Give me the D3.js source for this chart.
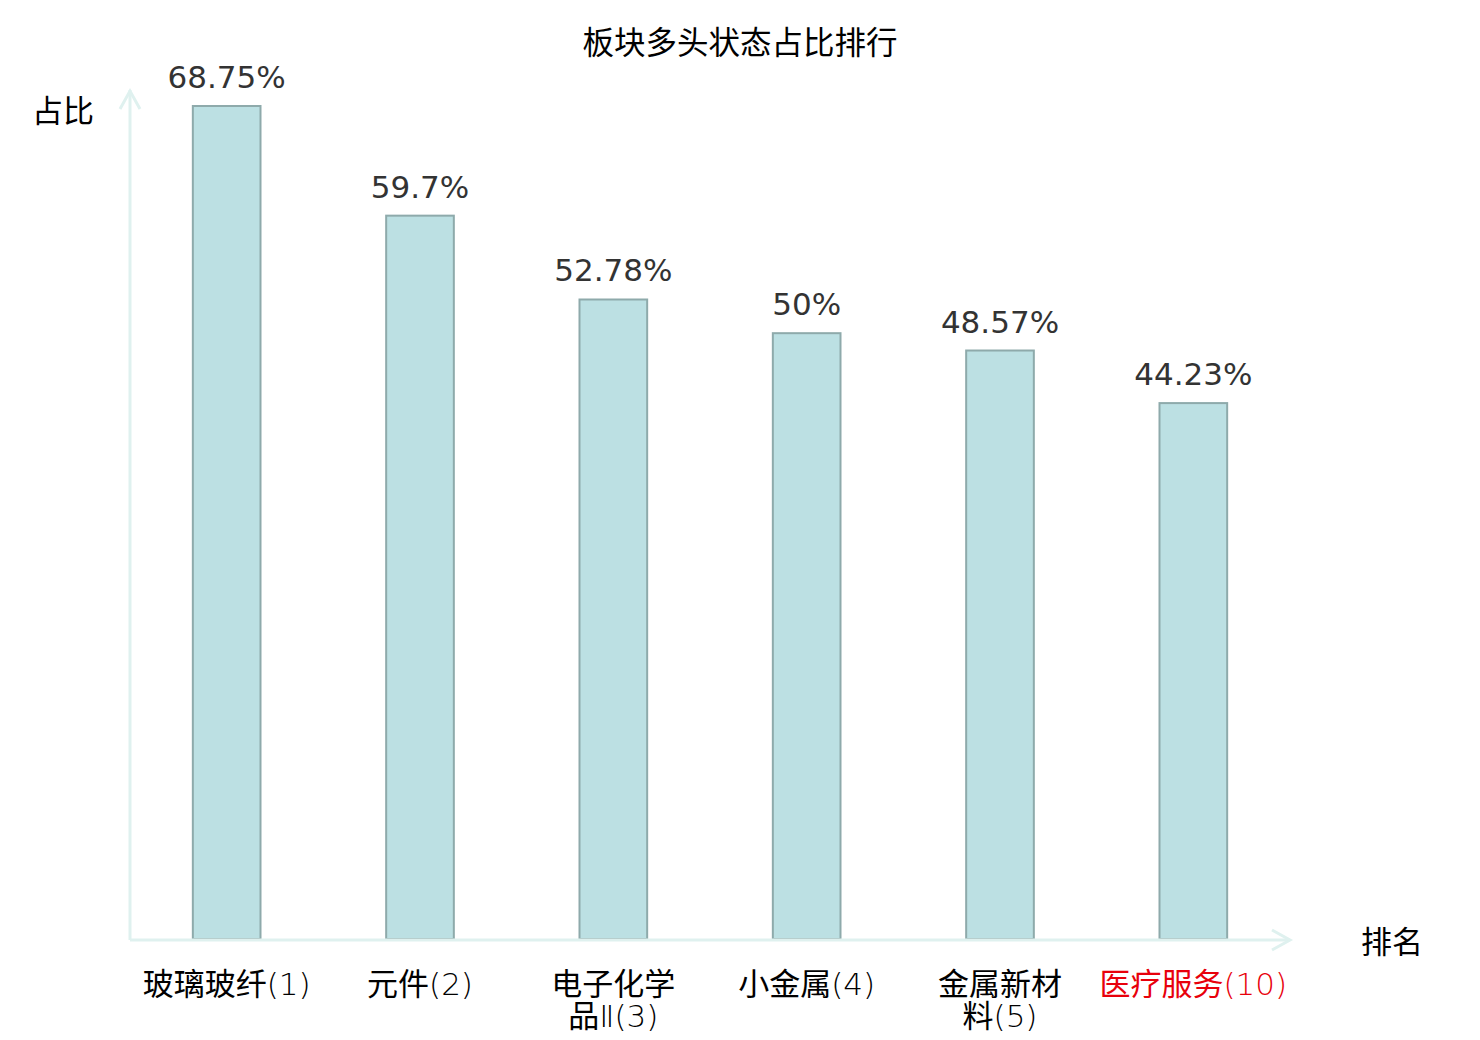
<!DOCTYPE html>
<html lang="zh">
<head>
<meta charset="UTF-8">
<title>板块多头状态占比排行</title>
<style>
  body, html { margin: 0; padding: 0; background: #fff; overflow: hidden; }
  text { font-family: "DejaVu Sans", "Noto Sans CJK SC", sans-serif; }
  .thin { font-family: "DejaVu Sans", "Noto Sans CJK SC", sans-serif; font-weight: 200; }
</style>
</head>
<body>
<script src="https://d3js.org/d3.v7.min.js"></script>
<script>
// data
var categories = ["玻璃玻纤(1)", "元件(2)", "电子化学品Ⅱ(3)", "小金属(4)", "金属新材料(5)", "医疗服务(10)"];
var labelLines = [["玻璃玻纤(1)"], ["元件(2)"], ["电子化学", "品Ⅱ(3)"], ["小金属(4)"], ["金属新材", "料(5)"], ["医疗服务(10)"]];
var values = [68.75, 59.7, 52.78, 50, 48.57, 44.23];
var highlight = [false, false, false, false, false, true];

var width = 1480, height = 1040;
var x0 = 130, x1 = 1290, yBase = 939, yTop = 106;
var fs = 31;

var svg = d3.select("body").append("svg")
    .attr("width", width)
    .attr("height", height);

var x = d3.scaleBand()
    .domain(categories)
    .range([x0, x1])
    .paddingInner(0.65)
    .paddingOuter(0.325);

var y = d3.scaleLinear()
    .domain([0, d3.max(values)])
    .range([yBase, yTop]);

// title
svg.append("text")
    .attr("x", 740).attr("y", 54)
    .attr("text-anchor", "middle")
    .attr("font-size", 31.5)
    .attr("fill", "#000")
    .text("板块多头状态占比排行");

// bars
svg.selectAll("rect.bar")
    .data(values)
    .enter().append("rect")
    .attr("class", "bar")
    .attr("x", function(d, i) { return x(categories[i]); })
    .attr("y", function(d) { return y(d); })
    .attr("width", x.bandwidth())
    .attr("height", function(d) { return yBase - y(d); })
    .attr("fill", "#bce0e3")
    .attr("stroke", "#8eaaab")
    .attr("stroke-width", 2);

// value labels
svg.selectAll("text.val")
    .data(values)
    .enter().append("text")
    .attr("class", "val")
    .attr("x", function(d, i) { return x(categories[i]) + x.bandwidth() / 2; })
    .attr("y", function(d) { return y(d) - 18; })
    .attr("text-anchor", "middle")
    .attr("font-size", fs)
    .attr("fill", "#333")
    .text(function(d) { return d + "%"; });

// axes
var axisColor = "#dff1ef";
svg.append("line")
    .attr("x1", x0).attr("y1", yBase + 1)
    .attr("x2", x0).attr("y2", 90)
    .attr("stroke", axisColor).attr("stroke-width", 3);
svg.append("path")
    .attr("d", "M" + (x0 - 10) + ",109 L" + x0 + ",91 L" + (x0 + 10) + ",109")
    .attr("fill", "none").attr("stroke", axisColor).attr("stroke-width", 3);
svg.append("line")
    .attr("x1", x0).attr("y1", yBase + 1)
    .attr("x2", x1).attr("y2", yBase + 1)
    .attr("stroke", axisColor).attr("stroke-width", 3);
svg.append("path")
    .attr("d", "M" + (x1 - 18) + "," + (yBase - 9) + " L" + x1 + "," + (yBase + 1) + " L" + (x1 - 18) + "," + (yBase + 11))
    .attr("fill", "none").attr("stroke", axisColor).attr("stroke-width", 3);

// axis names
svg.append("text")
    .attr("x", 63).attr("y", 122)
    .attr("text-anchor", "middle")
    .attr("font-size", fs).attr("fill", "#000")
    .text("占比");
svg.append("text")
    .attr("x", 1392).attr("y", 953)
    .attr("text-anchor", "middle")
    .attr("font-size", fs).attr("fill", "#000")
    .text("排名");

// category labels: CJK part regular, rest in a thin face; one text per line
function parts(s) {
    var m = s.match(/^([\u4e00-\u9fff]*)(.*)$/);
    return [m[1], m[2]];
}

var lineData = [];
labelLines.forEach(function(lines, i) {
    lines.forEach(function(line, j) {
        lineData.push({ i: i, j: j, p: parts(line) });
    });
});

var cat = svg.selectAll("text.cat")
    .data(lineData)
    .enter().append("text")
    .attr("class", "cat")
    .attr("x", function(d) { return x(categories[d.i]) + x.bandwidth() / 2; })
    .attr("y", function(d) { return 995 + d.j * 32; })
    .attr("text-anchor", "middle")
    .attr("font-size", fs)
    .attr("fill", function(d) { return highlight[d.i] ? "#e8000b" : "#000"; });

cat.append("tspan").text(function(d) { return d.p[0]; });
cat.append("tspan").attr("class", "thin").text(function(d) { return d.p[1]; });
</script>
</body>
</html>
